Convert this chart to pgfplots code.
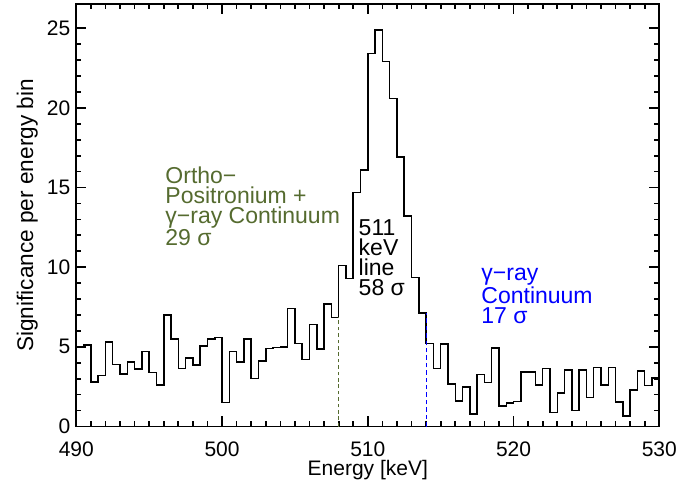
\documentclass[border=0pt]{standalone}
\usepackage{fontspec}
\setmainfont{Liberation Sans}
\usepackage{pgfplots}
\pgfplotsset{compat=1.18}
\definecolor{olivetxt}{RGB}{85,107,47}
\definecolor{bluetxt}{RGB}{0,0,255}

% significance per 0.5 keV bin (left bin edges)
\pgfplotstableread{
E sig
490.0 5.0
490.5 5.1
491.0 2.8
491.5 3.2
492.0 5.3
492.5 3.9
493.0 3.3
493.5 4.05
494.0 3.6
494.5 4.7
495.0 3.4
495.5 2.6
496.0 7.0
496.5 5.5
497.0 3.65
497.5 4.3
498.0 3.85
498.5 5.05
499.0 5.5
499.5 5.6
500.0 1.5
500.5 4.7
501.0 4.05
501.5 5.5
502.0 3.0
502.5 4.1
503.0 4.9
503.5 4.95
504.0 5.0
504.5 7.4
505.0 5.2
505.5 4.2
506.0 6.4
506.5 4.85
507.0 7.7
507.5 6.85
508.0 10.1
508.5 9.3
509.0 14.7
509.5 16.1
510.0 23.4
510.5 24.9
511.0 22.9
511.5 20.6
512.0 16.9
512.5 13.2
513.0 9.35
513.5 7.13
514.0 5.2
514.5 3.65
515.0 5.18
515.5 2.66
516.0 1.6
516.5 2.47
517.0 0.78
517.5 3.27
518.0 2.75
518.5 4.93
519.0 1.28
519.5 1.47
520.0 1.57
520.5 3.42
521.0 3.42
521.5 2.6
522.0 3.63
522.5 0.88
523.0 2.1
523.5 3.56
524.0 1.0
524.5 3.56
525.0 1.82
525.5 3.71
526.0 2.6
526.5 3.69
527.0 1.55
527.5 0.67
528.0 2.29
528.5 3.48
529.0 2.56
529.5 3.04
530.0 3.04
}\spectrum

\begin{document}
\begin{tikzpicture}
\begin{axis}[
    scale only axis,
    width=291.5bp, height=211.1bp,
    xmin=490, xmax=530,
    ymin=0, ymax=26.5,
    xtick={490,500,...,530},
    ytick={0,5,...,25},
    minor x tick num=9,
    minor y tick num=4,
    tick align=inside,
    major tick length=5bp,
    minor tick length=2.5bp,
    axis line style={line width=0.85bp},
    every tick/.style={line width=0.85bp, black},
    /pgf/number format/assume math mode=true,
    tick label style={font=\fontsize{10.5bp}{12bp}\selectfont, inner sep=0pt},
    xticklabel style={anchor=north, yshift=-7.5bp},
    yticklabel style={anchor=east, xshift=-2.8bp},
    xlabel={Energy [keV]},
    ylabel={Significance per energy bin},
    every axis x label/.style={at={(axis description cs:0.5,-0.115)}, anchor=base,
        font=\fontsize{10.5bp}{12bp}\selectfont},
    every axis y label/.style={at={(axis description cs:-0.074,0.5)}, rotate=90, anchor=base,
        font=\fontsize{11.3bp}{12bp}\selectfont},
    clip=false,
]
\coordinate (bl) at (rel axis cs:0,0);
\coordinate (tr) at (rel axis cs:1,1);

\addplot[const plot, black, line width=0.75bp] table[x=E, y=sig] {\spectrum};

\addplot[olivetxt, line width=0.5bp, dash pattern=on 1.8bp off 1.4bp] coordinates {(508,0) (508,6.85)};
\addplot[bluetxt, line width=0.5bp, dash pattern=on 2.2bp off 1.5bp] coordinates {(514,0) (514,7.13)};

% anchors sit on the baseline of the last line
\node[anchor=base west, inner sep=0pt, align=left, text=olivetxt,
      font=\fontsize{11.5bp}{10bp}\selectfont] at (axis cs:496.09,11.33)
      {Ortho−\\Positronium +\\γ−ray Continuum\\29 σ};
\node[anchor=base west, inner sep=0pt, align=left, text=black,
      font=\fontsize{11.5bp}{10bp}\selectfont] at (axis cs:509.35,8.25)
      {511\\keV\\line\\58 σ};
\node[anchor=base west, inner sep=0pt, align=left, text=bluetxt,
      font=\fontsize{11.5bp}{9.8bp}\selectfont] at (axis cs:517.77,6.48)
      {γ−ray\\Continuum\\17 σ};
\end{axis}
\pgfresetboundingbox
\path ([shift={(-38.15bp,-29.75bp)}]bl) rectangle ([shift={(20.35bp,2.15bp)}]tr);
\end{tikzpicture}
\end{document}
